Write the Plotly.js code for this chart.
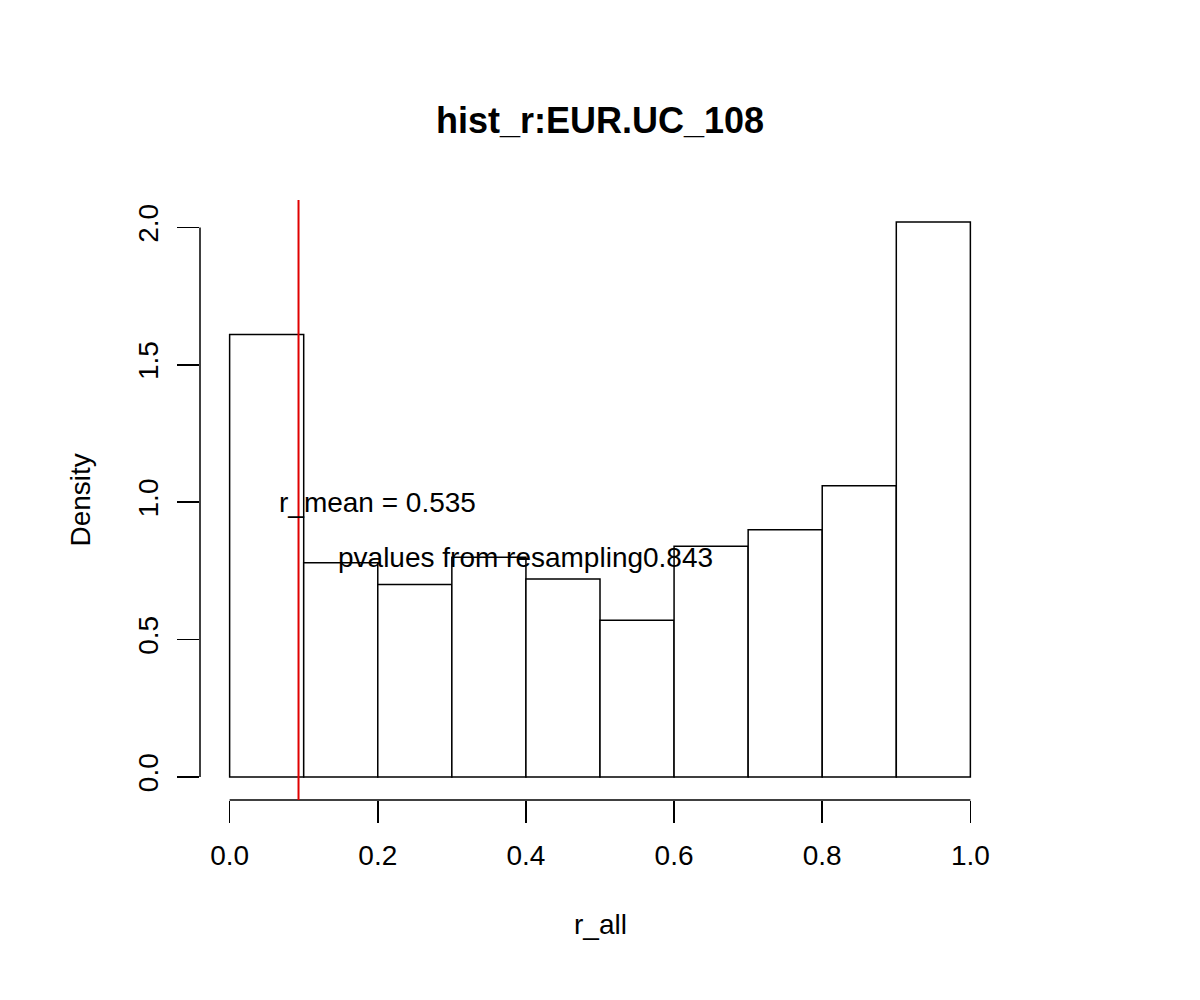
<!DOCTYPE html>
<html>
<head>
<meta charset="utf-8">
<script src="https://cdn.plot.ly/plotly-3.0.1.min.js"></script>
<style>body{margin:0;background:#fff}</style>
</head>
<body>
<div id="plot" style="width:1200px;height:1000px"></div>
<script>
// histogram of r_all
const binEdges = [0, 0.1, 0.2, 0.3, 0.4, 0.5, 0.6, 0.7, 0.8, 0.9, 1.0]
const densities = [1.61, 0.78, 0.70, 0.80, 0.72, 0.57, 0.84, 0.90, 1.06, 2.02]
const xTicks = [0, 0.2, 0.4, 0.6, 0.8, 1.0]
const yTicks = [0, 0.5, 1.0, 1.5, 2.0]
const observedR = 0.093
const meanLabel = {x: 0.2, y: 1.0, text: "r_mean = 0.535"}
const pvalLabel = {x: 0.4, y: 0.8, text: "pvalues from resampling0.843"}

let centers = []
for (let i = 0; i < densities.length; i++) {
    centers.push((binEdges[i] + binEdges[i + 1]) / 2)
}

const font = {family: "Liberation Sans, Arial, sans-serif", size: 28, color: "#000"}

let data = [{
    type: "bar",
    x: centers,
    y: densities,
    width: 0.1,
    marker: {color: "#fff", line: {color: "#000", width: 1.5}},
    hoverinfo: "skip"
}]

let layout = {
    width: 1200,
    height: 1000,
    margin: {l: 200, r: 200, t: 200, b: 200},
    paper_bgcolor: "#fff",
    plot_bgcolor: "#fff",
    font: font,
    showlegend: false,
    bargap: 0,
    title: {text: "<b>hist_r:EUR.UC_108</b>", font: {size: 36}, x: 0.5, y: 0.88, yanchor: "middle"},
    xaxis: {
        range: [-0.04, 1.04],
        tickvals: xTicks,
        ticktext: xTicks.map(v => v.toFixed(1)),
        ticks: "outside",
        ticklen: 22,
        tickwidth: 1.5,
        tickcolor: "#000",
        showgrid: false,
        zeroline: false,
        showline: false,
        ticklabelstandoff: 8
    },
    yaxis: {
        range: [-0.084, 2.1],
        tickvals: yTicks,
        ticktext: yTicks.map(v => v.toFixed(1)),
        tickangle: -90,
        ticks: "outside",
        ticklen: 22,
        tickwidth: 1.5,
        tickcolor: "#000",
        showgrid: false,
        zeroline: false,
        showline: false,
        ticklabelstandoff: 8
    },
    shapes: [
        {type: "line", xref: "x", yref: "paper", x0: xTicks[0], x1: xTicks[xTicks.length - 1], y0: 0, y1: 0,
            line: {color: "#000", width: 1.5}},
        {type: "line", xref: "paper", yref: "y", x0: 0, x1: 0, y0: yTicks[0], y1: yTicks[yTicks.length - 1],
            line: {color: "#000", width: 1.5}},
        {type: "line", xref: "x", yref: "paper", x0: observedR, x1: observedR, y0: 0, y1: 1,
            line: {color: "#e00000", width: 2}}
    ],
    annotations: [
        {x: meanLabel.x, y: meanLabel.y, text: meanLabel.text, showarrow: false, font: font},
        {x: pvalLabel.x, y: pvalLabel.y, text: pvalLabel.text, showarrow: false, font: font},
        {xref: "paper", yref: "paper", x: 0.5, y: -0.237, text: "r_all", showarrow: false, font: font},
        {xref: "paper", yref: "paper", x: -0.1725, y: 0.5, text: "Density", textangle: -90, showarrow: false, font: font}
    ]
}

Plotly.newPlot("plot", data, layout, {staticPlot: true})
</script>
</body>
</html>
